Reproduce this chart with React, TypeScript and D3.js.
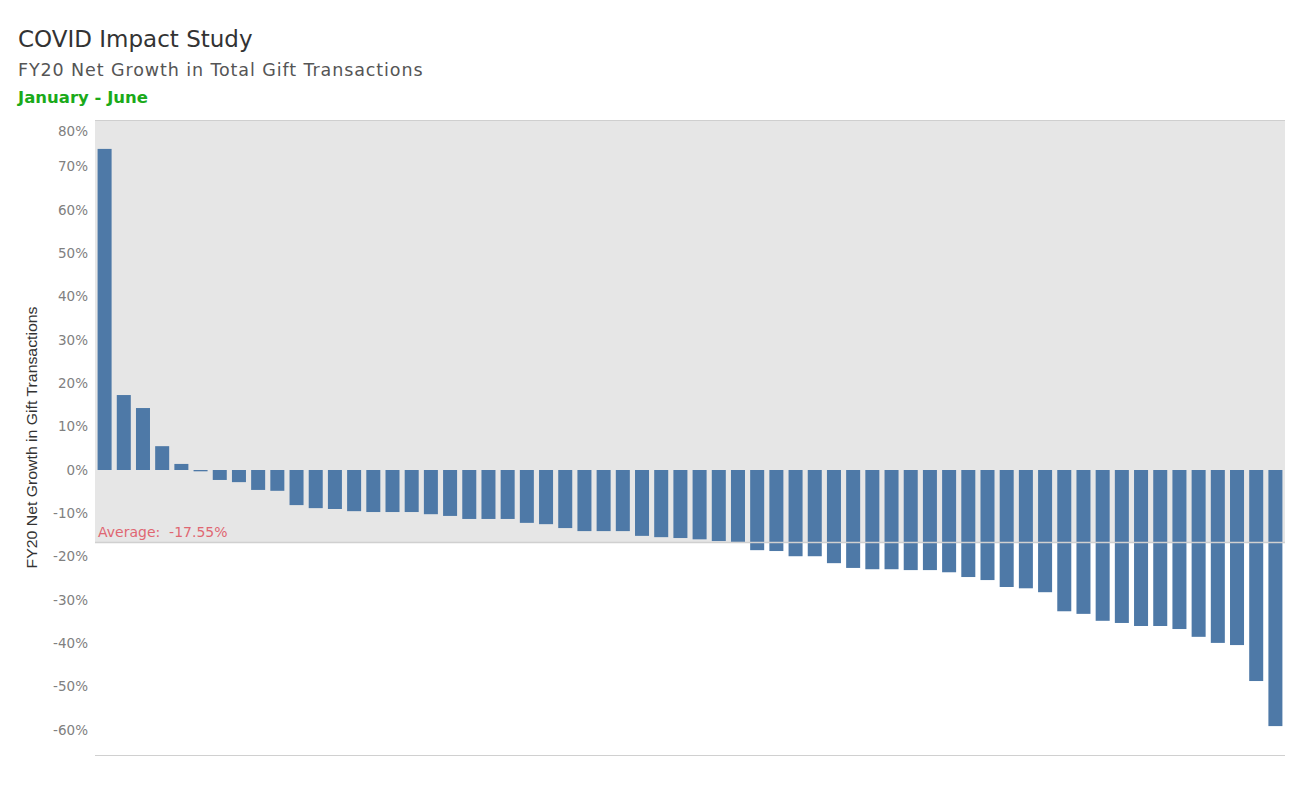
import React from 'react'
import * as d3 from 'd3'

// chart text
const title = 'COVID Impact Study'
const subtitle = 'FY20 Net Growth in Total Gift Transactions'
const period = 'January - June'
const yAxisTitle = 'FY20 Net Growth in Gift Transactions'
const averageLabel = 'Average:  -17.55%'

// FY20 net growth per entity, sorted descending (fraction)
const growth = [
  0.741, 0.173, 0.143, 0.055, 0.014, -0.003, -0.023, -0.028, -0.046, -0.048,
  -0.081, -0.088, -0.090, -0.095, -0.097, -0.097, -0.097, -0.102, -0.106, -0.113,
  -0.113, -0.113, -0.122, -0.125, -0.134, -0.141, -0.141, -0.141, -0.152, -0.155,
  -0.157, -0.160, -0.164, -0.166, -0.185, -0.187, -0.199, -0.199, -0.215, -0.226,
  -0.229, -0.229, -0.231, -0.231, -0.236, -0.247, -0.254, -0.270, -0.273, -0.282,
  -0.326, -0.332, -0.348, -0.353, -0.360, -0.360, -0.367, -0.385, -0.399, -0.404,
  -0.487, -0.591
]

const yTicks = [0.8, 0.7, 0.6, 0.5, 0.4, 0.3, 0.2, 0.1, 0, -0.1, -0.2, -0.3, -0.4, -0.5, -0.6]

const W = 1300
const H = 800
const plot = { left: 95, right: 1285, top: 120, bottom: 755 }
const font = '"DejaVu Sans", "Noto Sans", sans-serif'

// plain hyphen for negatives, like the original
const fmt = d3.formatLocale({ decimal: '.', thousands: ',', grouping: [3], currency: ['$', ''], minus: '-' }).format('.0%')

export default function App () {
  const ids = growth.map((_, i) => String(i))

  const x = d3.scaleBand()
    .domain(ids)
    .range([plot.left, plot.right])
    .paddingInner(0.27)
    .paddingOuter(0.135)

  const y = d3.scaleLinear()
    .domain([-0.6577, 0.8077])
    .range([plot.bottom, plot.top])

  const avg = d3.mean(growth) as number

  return (
    <svg width={W} height={H} style={{ position: 'absolute', left: 0, top: 0, fontFamily: font }}>
      {/* titles */}
      <text x={18} y={47} fontSize={23} fill='#333'>{title}</text>
      <text x={18} y={76} fontSize={17.5} letterSpacing={0.9} fill='#555'>{subtitle}</text>
      <text x={18} y={103} fontSize={16.5} fontWeight='bold' fill='#1aaa1a'>{period}</text>

      {/* shaded band above the average */}
      <rect x={plot.left} y={plot.top} width={plot.right - plot.left} height={y(avg) - plot.top} fill='#e6e6e6' />
      <line x1={plot.left} x2={plot.right} y1={plot.top + 0.5} y2={plot.top + 0.5} stroke='#cfcfcf' />

      {/* bars */}
      <g>
        {growth.map((v, i) => (
          <rect
            key={i}
            x={x(String(i))}
            width={x.bandwidth()}
            y={Math.min(y(v), y(0))}
            height={Math.max(1, Math.abs(y(v) - y(0)))}
            fill='#4e79a7'
          />
        ))}
      </g>

      {/* average reference line */}
      <line x1={plot.left} x2={plot.right} y1={y(avg)} y2={y(avg)} stroke='#d0d0d0' strokeWidth={1.5} />
      <text x={98} y={y(avg) - 6} fontSize={14} fill='#e06672' style={{ whiteSpace: 'pre' }}>{averageLabel}</text>

      {/* bottom axis line */}
      <line x1={plot.left} x2={plot.right} y1={plot.bottom + 0.5} y2={plot.bottom + 0.5} stroke='#d0d0d0' />

      {/* y tick labels */}
      <g>
        {yTicks.map(t => (
          <text
            key={t}
            x={88}
            y={Math.max(y(t), 131)}
            dy='0.35em'
            textAnchor='end'
            fontSize={13.5}
            fill='#808080'
          >
            {fmt(t)}
          </text>
        ))}
      </g>

      {/* y axis title */}
      <text
        transform={`translate(37, ${(plot.top + plot.bottom) / 2}) rotate(-90)`}
        textAnchor='middle'
        fontSize={15}
        fill='#333'
        textLength={262}
        lengthAdjust='spacingAndGlyphs'
        fontFamily='"Liberation Sans", "Roboto", sans-serif'
      >
        {yAxisTitle}
      </text>
    </svg>
  )
}
